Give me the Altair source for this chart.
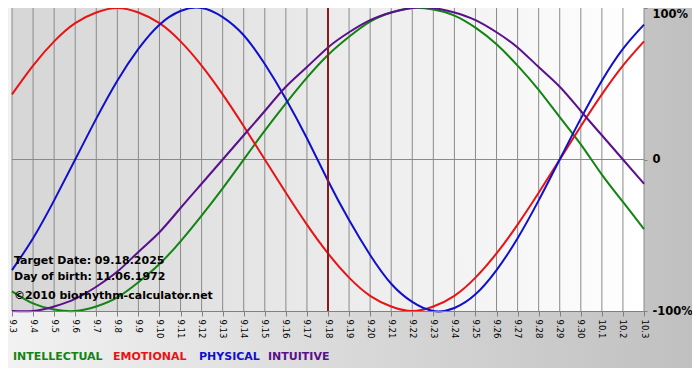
import altair as alt
import pandas as pd

# ---------------- data ----------------
days = ["9.3", "9.4", "9.5", "9.6", "9.7", "9.8", "9.9", "9.10", "9.11", "9.12",
        "9.13", "9.14", "9.15", "9.16", "9.17", "9.18", "9.19", "9.20", "9.21", "9.22",
        "9.23", "9.24", "9.25", "9.26", "9.27", "9.28", "9.29", "9.30", "10.1", "10.2", "10.3"]

intellectual = [-0.87, -0.95, -0.99, -1.00, -0.97, -0.91, -0.81, -0.69, -0.54, -0.37, -0.19,
                0.00, 0.19, 0.37, 0.54, 0.69, 0.81, 0.91, 0.97, 1.00, 0.99, 0.95, 0.87,
                0.76, 0.62, 0.46, 0.28, 0.10, -0.10, -0.28, -0.46]
emotional = [0.43, 0.62, 0.78, 0.90, 0.97, 1.00, 0.97, 0.90, 0.78, 0.62, 0.43, 0.22, 0.00,
             -0.22, -0.43, -0.62, -0.78, -0.90, -0.97, -1.00, -0.97, -0.90, -0.78, -0.62,
             -0.43, -0.22, 0.00, 0.22, 0.43, 0.62, 0.78]
physical = [-0.73, -0.52, -0.27, 0.00, 0.27, 0.52, 0.73, 0.89, 0.98, 1.00, 0.94, 0.82, 0.63,
            0.40, 0.14, -0.14, -0.40, -0.63, -0.82, -0.94, -1.00, -0.98, -0.89, -0.73,
            -0.52, -0.27, 0.00, 0.27, 0.52, 0.73, 0.89]
intuitive = [-1.00, -1.00, -0.97, -0.92, -0.84, -0.74, -0.61, -0.48, -0.32, -0.16, 0.00,
             0.16, 0.32, 0.48, 0.61, 0.74, 0.84, 0.92, 0.97, 1.00, 1.00, 0.97, 0.92, 0.84,
             0.74, 0.61, 0.48, 0.32, 0.16, 0.00, -0.16]

series_names = ["INTELLECTUAL", "EMOTIONAL", "PHYSICAL", "INTUITIVE"]
series_colors = ["#128412", "#e61414", "#1010cc", "#5a108c"]
target_day = "9.18"
info_lines = ["Target Date: 09.18.2025", "Day of birth: 11.06.1972",
              "\u00a92010 biorhythm-calculator.net"]
y_ticks = [-1, 0, 1]
y_tick_labels = ["-100%", "0", "100%"]

# ---------------- layout ----------------
PAD_L, PAD_R, PAD_B = 4, 48, 57
W, H = 632, 303
FONT = "DejaVu Sans"

rows = []
for name, vals in zip(series_names, [intellectual, emotional, physical, intuitive]):
    for i, (d, v) in enumerate(zip(days, vals)):
        rows.append({"idx": i, "day": d, "value": v, "series": name})
df = pd.DataFrame(rows)
days_df = pd.DataFrame({"idx": list(range(len(days))), "day": days})
target_df = days_df[days_df["day"] == target_day]
zero_df = pd.DataFrame({"v": [0]})

one = alt.Data(values=[{}])

xscale = alt.Scale(domain=[0, len(days) - 1], nice=False, zero=False)
yscale = alt.Scale(domain=[-1, 1], nice=False, zero=False)

days_js = "[" + ",".join(f"'{d}'" for d in days) + "]"
x_axis = alt.Axis(orient="bottom", values=list(range(len(days))),
                  labelExpr=f"{days_js}[datum.value]",
                  labelAngle=90, labelFont=FONT, labelFontSize=8.5,
                  labelColor="#000000", tickColor="#808080", tickSize=5,
                  domainColor="#808080", grid=False, labelPadding=3,
                  labelOverlap=False, labelFlush=False, zindex=1, title=None)

y_label_expr = " : ".join(
    f"datum.value == {v} ? '{t}'" for v, t in zip(y_ticks, y_tick_labels)
) + " : ''"
y_axis = alt.Axis(orient="right", values=y_ticks, labelExpr=y_label_expr,
                  labelFont=FONT, labelFontSize=11.5, labelFontWeight="bold",
                  labelColor="#000000", tickColor="#808080", tickSize=3,
                  domain=False, grid=False, labelPadding=5, zindex=1, title=None,
                  labelFlush=False,
                  labelBaseline={"condition": {"test": "datum.value == 1", "value": "top"},
                                 "value": "middle"})

outer_bg = alt.Chart(one).mark_rect(
    fill=alt.LinearGradient(
        gradient="linear", x1=0, y1=0, x2=1, y2=0,
        stops=[alt.GradientStop(color="#f2f2f2", offset=0),
               alt.GradientStop(color="#c0c0c0", offset=1)]),
    strokeWidth=0,
).encode(x=alt.value(-PAD_L), x2=alt.value(W + PAD_R), y=alt.value(0), y2=alt.value(H + PAD_B))

plot_bg = alt.Chart(one).mark_rect(
    fill=alt.LinearGradient(
        gradient="linear", x1=0, y1=0, x2=1, y2=0,
        stops=[alt.GradientStop(color="#d6d6d6", offset=0),
               alt.GradientStop(color="#ffffff", offset=1)]),
    strokeWidth=0,
).encode(x=alt.value(0), x2=alt.value(W), y=alt.value(0), y2=alt.value(H))

grid = alt.Chart(days_df).mark_rule(color="#8a8a8a", strokeWidth=1).encode(
    x=alt.X("idx:Q", scale=xscale, axis=x_axis),
    y=alt.value(0), y2=alt.value(H),
)

zero_line = alt.Chart(zero_df).mark_rule(color="#8a8a8a", strokeWidth=1).encode(
    y=alt.Y("v:Q", scale=yscale, axis=y_axis),
    x=alt.value(0), x2=alt.value(W),
)

lines = alt.Chart(df).mark_line(strokeWidth=2, interpolate="natural").encode(
    x=alt.X("idx:Q", scale=xscale, axis=x_axis),
    y=alt.Y("value:Q", scale=yscale, axis=y_axis),
    color=alt.Color("series:N", scale=alt.Scale(domain=series_names, range=series_colors),
                    legend=None),
    order=alt.Order("idx:Q"),
)

target = alt.Chart(target_df).mark_rule(color="#8b1a1a", strokeWidth=2).encode(
    x=alt.X("idx:Q", scale=xscale, axis=x_axis),
    y=alt.value(0), y2=alt.value(H),
)

info_y = [H - 50, H - 34, H - 15]
info_layers = [
    alt.Chart(one).mark_text(align="left", baseline="middle", font=FONT, fontSize=11,
                             fontWeight="bold", color="#000000").encode(
        x=alt.value(2), y=alt.value(yy), text=alt.value(txt))
    for txt, yy in zip(info_lines, info_y)
]

legend_x = [1, 101, 187, 256]
legend_layers = [
    alt.Chart(one).mark_text(align="left", baseline="middle", font=FONT, fontSize=11,
                             fontWeight="bold", color=col).encode(
        x=alt.value(xx), y=alt.value(H + 46), text=alt.value(name))
    for name, col, xx in zip(series_names, series_colors, legend_x)
]

chart = alt.layer(
    outer_bg, plot_bg, grid, zero_line, lines, target, *info_layers, *legend_layers
).properties(
    width=W, height=H,
    autosize=alt.AutoSizeParams(type="none"),
    padding={"left": PAD_L, "top": 0, "right": PAD_R, "bottom": PAD_B},
).configure_view(stroke=None)

chart.save("out.html", embed_options={"renderer": "svg", "actions": False})
